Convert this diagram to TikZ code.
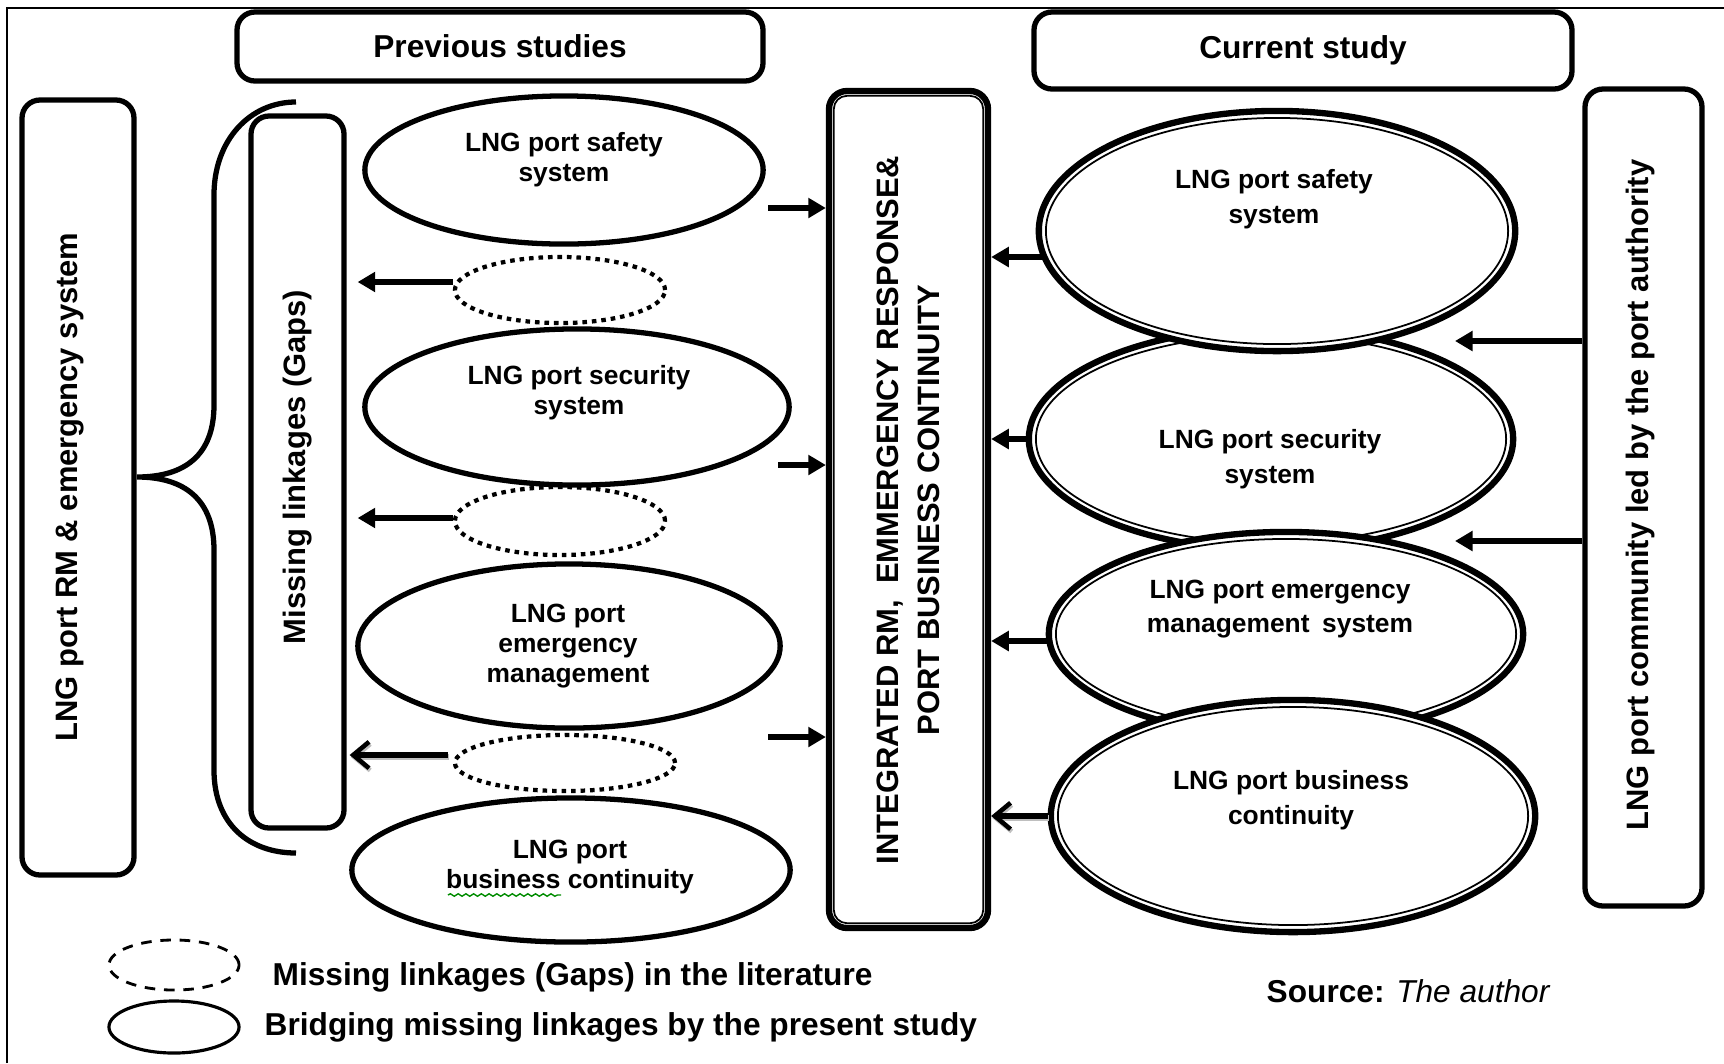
\documentclass[tikz,border=0pt]{standalone}
\usepackage{fontspec}
\setmainfont{Liberation Sans}
\usetikzlibrary{arrows.meta,shapes.geometric,decorations.pathmorphing,calc}
\begin{document}
\begin{tikzpicture}[x=0.01cm,y=-0.01cm,
  frame/.style={draw, line width=1.5pt, rounded corners=0.18cm, inner sep=0pt},
  hdr/.style={font=\fontsize{9}{11}\selectfont\bfseries},
  vtext/.style={rotate=90, align=center, inner sep=0pt, font=\fontsize{8.8}{11.7}\selectfont\bfseries},
  oval/.style={ellipse, draw, fill=white, line width=1.5pt, inner sep=0pt},
  roval/.style={ellipse, draw, fill=white, line width=1.8pt, inner sep=0pt},
  gapoval/.style={ellipse, draw, line width=1.2pt, dash pattern=on 1.3pt off 1.4pt, inner sep=0pt},
  etext/.style={align=center, inner sep=0pt, font=\fontsize{7.5}{8.6}\selectfont\bfseries},
  retext/.style={align=center, inner sep=0pt, font=\fontsize{7.5}{9.8}\selectfont\bfseries},
  sz/.style 2 args={minimum width=#1*0.02cm, minimum height=#2*0.02cm},
  bx/.style 2 args={minimum width=#1*0.01cm, minimum height=#2*0.01cm},
  arr/.style={line width=1.6pt, -{Triangle[length=5pt,width=5.5pt]}},
  barb/.style={line width=1.7pt, -{Straight Barb[length=4.5pt,width=7.5pt,line width=1.3pt]}},
  barbshadow/.style={barb, draw=gray!50, transform canvas={shift={(0.012cm,-0.022cm)}}},
  legtext/.style={anchor=west, inner sep=0pt, font=\fontsize{9}{11}\selectfont\bfseries},
]
\useasboundingbox (0,0) rectangle (1724,1063);

% outer frame
\draw[line width=0.7pt] (7,1063) -- (7,8) -- (1724,8);

% headings
\node[frame, hdr, bx={526}{69}] (prev) at (500,46.5) {Previous studies};
\node[frame, hdr, bx={538}{77}] (curr) at (1303,50.5) {Current study};

% left column
\node[frame, bx={112}{775}] (lbox) at (78,487.5) {};
\node[vtext] (lboxt) at (70,487) {LNG port RM \& emergency system};
\draw[line width=1.5pt] (296,102) .. controls (250,102) and (214,140) .. (214,195)
  -- (214,405) .. controls (214,455) and (185,477) .. (137,477)
  .. controls (185,477) and (214,500) .. (214,550)
  -- (214,770) .. controls (214,825) and (250,853) .. (296,853);
\node[frame, bx={93}{712}] (mg) at (297.5,472) {};
\node[vtext] (mgt) at (298,467) {Missing linkages (Gaps)};

% previous studies: ellipses and gaps
\node[oval, sz={199}{74}] (ls) at (564,170) {};
\node[etext] (lst) at (564,160) {LNG port safety\\system};
\node[gapoval, sz={105}{33}] (d1) at (560,290) {};
\node[oval, sz={212}{78}] (lsec) at (577,407) {};
\node[etext] (lsect) at (579,393) {LNG port security\\system};
\node[gapoval, sz={105}{34}] (d2) at (560,521) {};
\node[oval, sz={211}{82}] (lem) at (569,646) {};
\node[etext] (lemt) at (568,646) {LNG port\\emergency\\management};
\node[gapoval, sz={110}{28}] (d3) at (565,763) {};
\node[oval, sz={219}{72}] (lbc) at (571,870) {};
\node[etext] (lbct) at (570,867) {LNG port\\business continuity};
\draw[green!55!black, line width=0.4pt, decorate, decoration={snake, amplitude=0.35pt, segment length=2.2pt}] (448,895) -- (561,895);

% central integration box
\node[frame, line width=1.8pt, bx={159}{837}] (cb) at (908.5,509.5) {};
\draw[line width=0.5pt, rounded corners=0.13cm] ([shift={(0.08cm,-0.08cm)}]cb.north west) rectangle ([shift={(-0.08cm,0.08cm)}]cb.south east);
\node[vtext] (cbt) at (908,510) {INTEGRATED RM,\hspace{0.25em} EMMERGENCY RESPONSE\&\\PORT BUSINESS CONTINUITY};

% right column box
\node[frame, bx={117}{817}] (rb) at (1643.5,497.5) {};
\node[vtext] (rbt) at (1640,495) {LNG port community led by the port authority};

% current study: overlapping double ellipses
\node[roval, sz={242}{111}] (rsec) at (1271,439) {};
\draw[line width=0.5pt] (rsec.center) ellipse [x radius=2.35cm, y radius=1.04cm];
\node[roval, sz={238}{120}] (rs) at (1277,231) {};
\draw[line width=0.5pt] (rs.center) ellipse [x radius=2.31cm, y radius=1.13cm];
\node[roval, sz={237}{102}] (rem) at (1286,634) {};
\draw[line width=0.5pt] (rem.center) ellipse [x radius=2.30cm, y radius=0.95cm];
\node[roval, sz={242}{116}] (rbc) at (1293,816) {};
\draw[line width=0.5pt] (rbc.center) ellipse [x radius=2.35cm, y radius=1.09cm];
\node[retext] (rst) at (1274,199) {LNG port safety\\system};
\node[retext] (rsect) at (1270,459) {LNG port security\\system};
\node[retext] (remt) at (1280,609) {LNG port emergency\\management\hspace{0.2em} system};
\node[retext] (rbct) at (1291,800) {LNG port business\\continuity};

% arrows: previous studies into the integration box
\coordinate (p1) at (768,208);
\coordinate (p2) at (778,465);
\coordinate (p3) at (768,737);
\draw[arr] (p1) -- (p1 -| cb.west);
\draw[arr] (p2) -- (p2 -| cb.west);
\draw[arr] (p3) -- (p3 -| cb.west);

% arrows: gaps to missing linkages
\coordinate (g1) at ($(d1.west)+(0,-8)$);
\coordinate (g2) at ($(d2.west)+(0,-3)$);
\coordinate (g3) at ($(d3.west)+(-5,-8)$);
\draw[arr] (g1) -- ($(g1 -| mg.east)+(11,0)$);
\draw[arr] (g2) -- ($(g2 -| mg.east)+(11,0)$);
\draw[barbshadow] (g3) -- ($(g3 -| mg.east)+(3,0)$);
\draw[barb] (g3) -- ($(g3 -| mg.east)+(3,0)$);

% arrows: current study into the integration box
\coordinate (c1) at (1043,257);
\coordinate (c3) at (1050,641);
\draw[arr] (c1) -- (c1 -| cb.east);
\draw[arr] (rsec.west) -- (rsec.west -| cb.east);
\draw[arr] (c3) -- (c3 -| cb.east);
\draw[barbshadow] (rbc.west) -- (rbc.west -| cb.east);
\draw[barb] (rbc.west) -- (rbc.west -| cb.east);

% arrows: port community leadership
\coordinate (q1) at (1455,341);
\coordinate (q2) at (1455,541);
\draw[arr] (q1 -| rb.west) -- (q1);
\draw[arr] (q2 -| rb.west) -- (q2);

% legend
\node[ellipse, draw, line width=0.8pt, dash pattern=on 3pt off 2.5pt, inner sep=0pt, sz={65}{25}] (lg1) at (174,965) {};
\node[legtext] (lg1t) at (272,977) {Missing linkages (Gaps) in the literature};
\node[ellipse, draw, line width=0.9pt, inner sep=0pt, sz={65}{26}] (lg2) at (174,1027) {};
\node[legtext] (lg2t) at (264,1027) {Bridging missing linkages by the present study};
\node[legtext] (src) at (1266,991) {Source: \mdseries\itshape The author};
\end{tikzpicture}
\end{document}
